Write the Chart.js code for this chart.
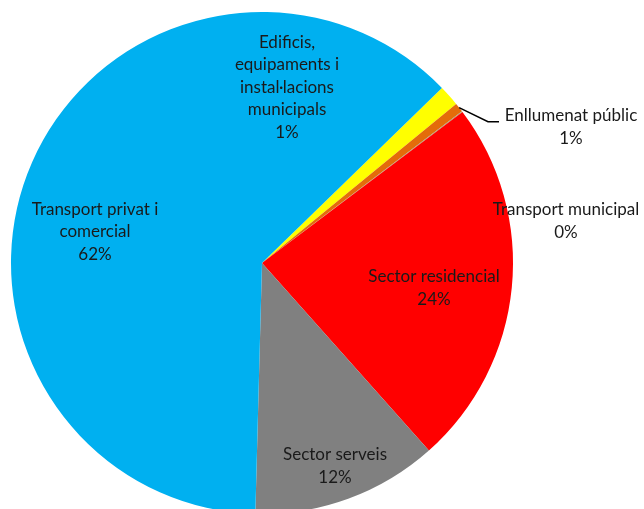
<!DOCTYPE html>
<html>
<head>
<meta charset="utf-8">
<script src="https://cdn.jsdelivr.net/npm/chart.js@4.4.0/dist/chart.umd.min.js"></script>
<style>
    html, body { margin: 0; padding: 0; background: #fff; overflow: hidden; }
    #chart { display: block; }
</style>
</head>
<body>
<canvas id="chart" width="644" height="520"></canvas>
<script>
// data (share of emissions, %)
var categories = [
    'Edificis, equipaments i instal·lacions municipals',
    'Enllumenat públic',
    'Transport municipal',
    'Sector residencial',
    'Sector serveis',
    'Transport privat i comercial'
];
var values = [1.35, 0.6, 0.05, 23.7, 12.0, 62.3];
var colors = ['#FFFF00', '#E46C0A', '#A8A070', '#FF0000', '#808080', '#00B0F0'];

// how each label is broken into lines, and where it sits relative to the pie centre
var labelLines = [
    ['Edificis,', 'equipaments i', 'instal·lacions', 'municipals'],
    ['Enllumenat públic'],
    ['Transport municipal'],
    ['Sector residencial'],
    ['Sector serveis'],
    ['Transport privat i', 'comercial']
];
var labelOffsets = [[25, -175.5], [309, -136], [304, -42], [172, 25], [73, 203], [-167, -31]];
var lineHeight = 22.5;
var labelFont = '17px Lato';

var labelPlugin = {
    id: 'pieLabels',
    afterDraw: function(chart)
    {
        var ctx = chart.ctx;
        var arcs = chart.getDatasetMeta(0).data;
        var cx = arcs[0].x;
        var cy = arcs[0].y;

        ctx.save();
        ctx.font = labelFont;
        ctx.fillStyle = '#1a1a1a';
        ctx.textAlign = 'center';
        ctx.textBaseline = 'middle';

        for (var i = 0; i < categories.length; ++i)
        {
            var lines = labelLines[i].concat([Math.round(values[i]) + '%']);
            var x = cx + labelOffsets[i][0];
            var top = cy + labelOffsets[i][1] - (lines.length - 1) * lineHeight / 2;
            for (var j = 0; j < lines.length; ++j)
            {
                ctx.fillText(lines[j], x, top + j * lineHeight);
            }
        }

        // leader line for "Enllumenat públic"
        var arc = arcs[1];
        var mid = (arc.startAngle + arc.endAngle) / 2;
        var sx = cx + arc.outerRadius * Math.cos(mid);
        var sy = cy + arc.outerRadius * Math.sin(mid);
        var ly = cy + labelOffsets[1][1] - lineHeight / 2 + 6;
        ctx.strokeStyle = '#000';
        ctx.lineWidth = 1.5;
        ctx.beginPath();
        ctx.moveTo(sx, sy);
        ctx.lineTo(cx + 226, ly);
        ctx.lineTo(cx + 237, ly);
        ctx.stroke();
        ctx.restore();
    }
};

new Chart(document.getElementById('chart').getContext('2d'), {
    type: 'pie',
    data: {
        labels: categories,
        datasets: [{
            data: values,
            backgroundColor: colors,
            borderWidth: 0
        }]
    },
    options: {
        responsive: false,
        animation: false,
        rotation: 45.8,
        layout: {
            padding: { left: 11, right: 131, top: 12, bottom: 6 }
        },
        plugins: {
            legend: { display: false },
            tooltip: { enabled: false }
        }
    },
    plugins: [labelPlugin]
});
</script>
</body>
</html>
